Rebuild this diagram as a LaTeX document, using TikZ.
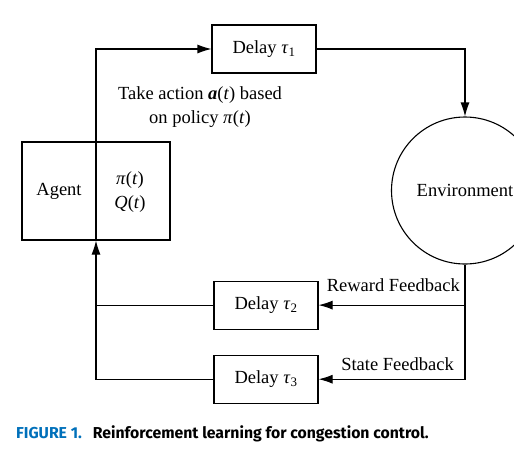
\documentclass[tikz,border=0pt]{standalone}
\usepackage{fontspec}
\setmainfont{Liberation Serif}
\newfontfamily\capfont{Fira Sans}
\usetikzlibrary{positioning}
\usetikzlibrary{calc}
\usetikzlibrary{arrows.meta}
\definecolor{capblue}{RGB}{0,112,186}

\begin{document}
\begin{tikzpicture}[Block/.style={rectangle, draw=black, fill=white, line width=1.1pt, minimum width=104pt, minimum height=48pt, inner sep=0pt, align=center},
        every node/.style={font=\fontsize{18.5pt}{24pt}\selectfont}]
        \useasboundingbox (0,0) rectangle (514pt,-451pt);

        \node[Block, minimum width=148pt, minimum height=98pt] (agent) at (96pt,-191pt) {};
        \node at ([xshift=-37pt] agent.center) (agentname) {Agent};
        \node[align=center] at ([xshift=34pt, yshift=-1pt] agent.center) (agentvals) {\textit{π}(\textit{t})\\\textit{Q}(\textit{t})};

        \node[Block] (D1) at (264pt,-49pt) {Delay \textit{τ}\textsubscript{1}};
        \node[Block, below = 207pt of D1.south, anchor=north, xshift=2pt] (D2) {Delay \textit{τ}\textsubscript{2}};
        \node[Block, below = 25pt of D2] (D3) {Delay \textit{τ}\textsubscript{3}};
        \node[circle, draw=black, line width=1.1pt, minimum size=147pt, inner sep=0pt] (env) at (465pt,-190.5pt) {Environment};

        \coordinate (C1) at (env.north |- D1);
        \coordinate (C2) at (env.south |- D2);
        \coordinate (C3) at (env.south |- D3);
        \coordinate (C4) at (agent.south |- D2);

        \draw[-{Latex[length=14pt, width=9pt]}, line width=1.1pt] (agent.south) |- (D1);
        \draw[-{Latex[length=14pt, width=9pt]}, line width=1.1pt] (D1) -- (C1) -- (env.north);
        \draw[-{Latex[length=14pt, width=9pt]}, line width=1.1pt] (env.south) -- (C3) -- (D3);
        \draw[-{Latex[length=14pt, width=9pt]}, line width=1.1pt] (C2) -- (D2);
        \draw[line width=1.1pt] (D2) -- (C4);
        \draw[-{Latex[length=14pt, width=9pt]}, line width=1.1pt] (D3) -| (agent.south);

        \node[align=center] (action) at (200pt,-107pt) {Take action \textbf{\textit{a}}(\textit{t}) based\\on policy \textit{π}(\textit{t})};
        \node[anchor=base east, inner sep=0pt] (reward) at ([xshift=-5pt, yshift=14pt] C2) {Reward Feedback};
        \node[anchor=base east, inner sep=0pt] (state) at ([xshift=-11pt, yshift=9pt] C3) {State Feedback};

        \node[anchor=base west, inner sep=0pt, font=\capfont\bfseries\fontsize{15.8pt}{18pt}\selectfont] (caption) at (16pt,-438pt) {\textcolor{capblue}{FIGURE 1.}\hspace{11pt}Reinforcement learning for congestion control.};
    \end{tikzpicture}
\end{document}
